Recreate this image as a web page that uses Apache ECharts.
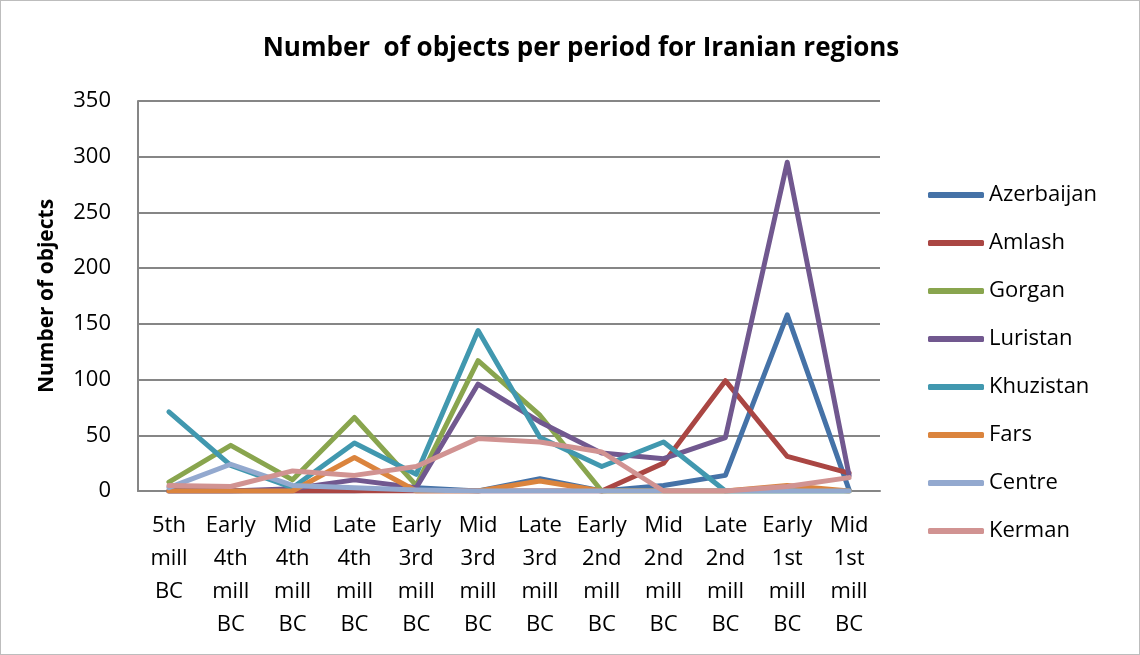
<!DOCTYPE html>
<html><head><meta charset="utf-8">
<script src="https://cdn.jsdelivr.net/npm/echarts@6/dist/echarts.min.js"></script>
<style>
html,body{margin:0;padding:0;background:#fff;}
#c{width:1138px;height:653px;border:1px solid #bdbdbd;}
</style></head>
<body><div id="c"></div>
<script>
const categories = ["5th\nmill\nBC","Early\n4th\nmill\nBC","Mid\n4th\nmill\nBC","Late\n4th\nmill\nBC","Early\n3rd\nmill\nBC","Mid\n3rd\nmill\nBC","Late\n3rd\nmill\nBC","Early\n2nd\nmill\nBC","Mid\n2nd\nmill\nBC","Late\n2nd\nmill\nBC","Early\n1st\nmill\nBC","Mid\n1st\nmill\nBC"];
const azerbaijan = [0,0,0,0,3,0,11,0,5,14,158,1];
const amlash     = [0,0,0,0,0,0,0,0,25,99,31,16];
const gorgan     = [8,41,10,66,5,117,68,0,0,0,0,0];
const luristan   = [0,0,2,10,3,96,62,34,29,48,295,14];
const khuzistan  = [71,23,3,43,15,144,48,22,44,0,0,0];
const fars       = [0,0,0,30,0,0,9,0,0,0,5,0];
const centre     = [3,24,5,3,1,0,0,0,0,0,0,0];
const kerman     = [5,4,18,14,22,47,44,35,0,0,4,12];
const yTicks = [0,50,100,150,200,250,300,350];

const names = ["Azerbaijan","Amlash","Gorgan","Luristan","Khuzistan","Fars","Centre","Kerman"];
const datas = [azerbaijan,amlash,gorgan,luristan,khuzistan,fars,centre,kerman];
const colors = ["#4572A7","#AA4643","#89A54E","#71588F","#4198AF","#DB843D","#93A9CF","#D19392"];
const FONT = "'Open Sans', sans-serif";

const chart = echarts.init(document.getElementById('c'), null, {renderer:'canvas'});
chart.setOption({
  animation:false,
  color: colors,
  title:{
    text:"Number  of objects per period for Iranian regions",
    left:575, top:30, textAlign:'center',
    textStyle:{fontFamily:FONT, fontWeight:'bold', fontSize:26, color:'#000'}
  },
  legend:{
    orient:'vertical', left:922, top:178, itemGap:26, itemWidth:56, itemHeight:6,
    icon:'roundRect',
    textStyle:{fontFamily:FONT, fontSize:22, color:'#000'},
    data:names
  },
  grid:{left:137, right:259, top:100, bottom:163, containLabel:false},
  xAxis:{
    type:'category', data:categories, boundaryGap:true,
    axisLine:{lineStyle:{color:'#868686', width:2}},
    axisTick:{show:false},
    axisLabel:{fontFamily:FONT, fontSize:22, color:'#000', lineHeight:33, margin:18, interval:0}
  },
  yAxis:{
    type:'value', min:yTicks[0], max:yTicks[yTicks.length-1], interval:50,
    name:"Number of objects", nameLocation:'middle', nameGap:80, nameRotate:90,
    nameTextStyle:{fontFamily:FONT, fontWeight:'bold', fontSize:21, color:'#000'},
    axisLine:{show:true, lineStyle:{color:'#868686', width:2}},
    axisTick:{show:false},
    axisLabel:{fontFamily:FONT, fontSize:22, color:'#000', margin:27},
    splitLine:{lineStyle:{color:'#868686', width:2}}
  },
  series: names.map((n,i)=>({
    name:n, type:'line', data:datas[i], symbol:'none', smooth:false,
    lineStyle:{width:5, color:colors[i], cap:'round', join:'round'},
    itemStyle:{color:colors[i]}
  }))
});
</script></body></html>
